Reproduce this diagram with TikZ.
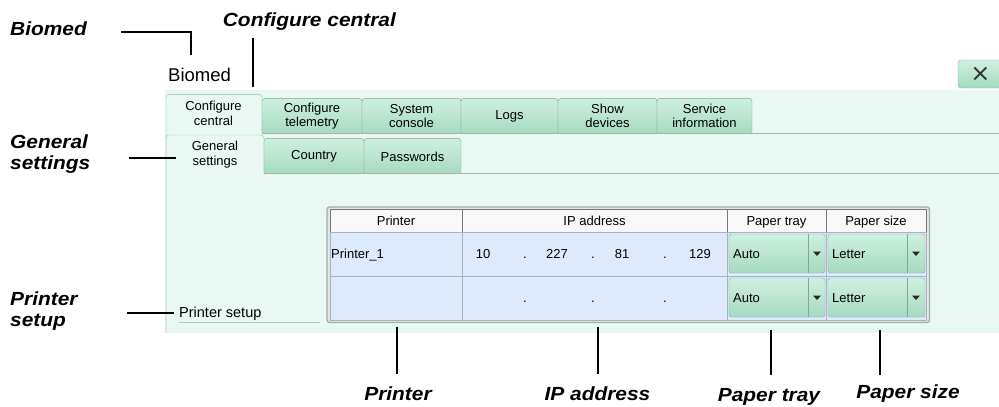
\documentclass[tikz,border=0pt]{standalone}
\usepackage{fontspec}
\setmainfont{Liberation Sans}
\newfontfamily\notefont[FakeStretch=1.1]{Liberation Sans}
\newfontfamily\symfont{DejaVu Sans}
\usepackage{xcolor}
\definecolor{panelmint}{RGB}{233,248,242}
\definecolor{tabtop}{RGB}{206,240,224}
\definecolor{tabbot}{RGB}{166,218,193}
\definecolor{tabedge}{RGB}{128,166,148}
\definecolor{seledge}{RGB}{158,184,172}
\definecolor{headfill}{RGB}{248,248,248}
\definecolor{headedge}{RGB}{120,120,120}
\definecolor{rowblue}{RGB}{220,234,251}
\definecolor{rowedge}{RGB}{168,178,188}
\definecolor{framefill}{RGB}{226,232,232}
\definecolor{frameedge}{RGB}{164,172,172}
\definecolor{uline}{RGB}{176,200,188}

\begin{document}
\begin{tikzpicture}[x=1pt, y=-1pt,
    tabbox/.style={draw=tabedge, top color=tabtop, bottom color=tabbot, rounded corners=3pt},
    seltab/.style={draw=seledge, rounded corners=3pt},
    tabtext/.style={font=\fontsize{13}{14.5}\selectfont, align=center, inner sep=0pt},
    guitext/.style={font=\fontsize{13}{15}\selectfont, inner sep=0pt, anchor=base},
    dropbox/.style={draw=tabedge, top color=tabtop, bottom color=tabbot, rounded corners=2.5pt},
    note/.style={font=\notefont\bfseries\itshape\fontsize{19}{21.5}\selectfont, inner sep=0pt, align=left},
    callout/.style={line width=2pt, black}]
  \useasboundingbox (0,0) rectangle (999,407);

  % window
  \fill[panelmint] (165,90) rectangle (999,333);
  \node[font=\fontsize{18.5}{20}\selectfont, inner sep=0pt, anchor=base west] (title) at (168,81.7) {Biomed};
  \draw[tabbox] (958,60) rectangle (1010,88);
  \node[font=\symfont\fontsize{24}{24}\selectfont, text=black!80, inner sep=0pt] (close) at (980.5,74) {×};

  % top tabs
  \draw[seltab] (166,333) |- (213,94.3) -| (262,133.3);
  \node[tabtext] (tabCentral) at (213.5,113.5) {Configure\\central};
  \foreach \xa/\xb/\txt [count=\i] in {262/362/{Configure\\telemetry}, 362/461/{System\\console}, 461/558/Logs, 558/657/{Show\\devices}, 657/752/{Service\\information}} {
    \draw[tabbox] (\xa,133.3) |- ({(\xa+\xb)/2},98.3) -| (\xb,133.3);
    \node[tabtext] (tab\i) at ({(\xa+\xb)/2},116) {\txt};
  }
  \draw[seledge] (262,133.3) -- (999,133.3);

  % sub tabs
  \draw[seltab] (166,333) |- (215,135) -| (264,173.3);
  \node[tabtext] (subGeneral) at (215,154.5) {General\\settings};
  \foreach \xa/\xb/\txt [count=\i] in {264/364/Country, 364/461/Passwords} {
    \draw[tabbox] (\xa,173.3) |- ({(\xa+\xb)/2},138.3) -| (\xb,173.3);
    \node[tabtext] (sub\i) at ({(\xa+\xb)/2},156.5) {\txt};
  }
  \draw[seledge] (264,173.3) -- (999,173.3);

  % printer setup group
  \node[font=\fontsize{14.5}{16}\selectfont, inner sep=0pt, anchor=base west] (setup) at (179,317.3) {Printer setup};
  \draw[uline] (179,321.7) -- (320,321.7);

  % table
  \draw[fill=framefill, draw=frameedge, line width=1.4pt, rounded corners=2.5pt] (327,207) rectangle (929.5,322.5);
  \foreach \xa/\xb in {330/462, 462/727, 727/826, 826/926} {
    \draw[fill=headfill, draw=headedge, line width=0.8pt] (\xa,209) rectangle (\xb,232);
    \foreach \ya/\yb in {232/276, 276/320}
      \draw[fill=rowblue, draw=rowedge, line width=0.8pt] (\xa,\ya) rectangle (\xb,\yb);
  }
  \node[guitext] (hdPrinter) at (396,225) {Printer};
  \node[guitext] (hdIP) at (594.5,225) {IP address};
  \node[guitext] (hdTray) at (776.5,225) {Paper tray};
  \node[guitext] (hdSize) at (876,225) {Paper size};

  \node[guitext, anchor=base west] (name1) at (331,258.3) {Printer\_1};
  \foreach \x/\v [count=\i] in {483/10, 557/227, 622/81, 700/129}
    \node[guitext] (ip\i) at (\x,258.3) {\v};
  \foreach \x [count=\i] in {525, 593, 665} {
    \node[guitext] (dotA\i) at (\x,258.3) {.};
    \node[guitext] (dotB\i) at (\x,302.3) {.};
  }

  % drop-down boxes
  \foreach \ya [count=\r] in {234, 278} {
    \draw[dropbox] (729,\ya) rectangle (825,\ya+39);
    \draw[tabedge] (808,\ya) -- (808,\ya+39);
    \fill[black!85] (813,\ya+17.5) -- (821,\ya+17.5) -- (817,\ya+22) -- cycle;
    \node[guitext, anchor=base west] (tray\r) at (733,\ya+24.3) {Auto};
    \draw[dropbox] (828,\ya) rectangle (925,\ya+39);
    \draw[tabedge] (907,\ya) -- (907,\ya+39);
    \fill[black!85] (912,\ya+17.5) -- (920,\ya+17.5) -- (916,\ya+22) -- cycle;
    \node[guitext, anchor=base west] (size\r) at (832,\ya+24.3) {Letter};
  }

  % annotations
  \node[note, anchor=base west] (noteBiomed) at (10,35) {Biomed};
  \node[note, anchor=base west] (noteCentral) at (222.7,26) {Configure central};
  \node[note, anchor=west] (noteGeneral) at (10,154) {General\\settings};
  \node[note, anchor=west] (noteSetup) at (10,311) {Printer\\setup};
  \node[note, anchor=base] (notePrinter) at (398,400) {Printer};
  \node[note, anchor=base] (noteIP) at (597.5,400) {IP address};
  \node[note, anchor=base] (noteTray) at (769,401) {Paper tray};
  \node[note, anchor=base] (noteSize) at (908,398) {Paper size};

  \coordinate (biomedA) at (121,32.3);
  \coordinate (biomedB) at (190.7,55);
  \coordinate (centralA) at (253.3,37.7);
  \coordinate (centralB) at (253.3,87);
  \coordinate (generalA) at (129,158.3);
  \coordinate (generalB) at (176,158.3);
  \coordinate (setupA) at (127,312.7);
  \coordinate (setupB) at (174,312.7);
  \coordinate (printerB) at (396.7,327.3);
  \coordinate (ipB) at (597.7,327.3);
  \coordinate (trayB) at (770.7,330);
  \coordinate (sizeB) at (880,330);

  \draw[callout] (biomedA) -| (biomedB);
  \draw[callout] (centralA) -- (centralB);
  \draw[callout] (generalA) -- (generalB);
  \draw[callout] (setupA) -- (setupB);
  \draw[callout] (printerB) -- (printerB |- 0,374);
  \draw[callout] (ipB) -- (ipB |- 0,374);
  \draw[callout] (trayB) -- (trayB |- 0,375);
  \draw[callout] (sizeB) -- (sizeB |- 0,375);
\end{tikzpicture}
\end{document}
